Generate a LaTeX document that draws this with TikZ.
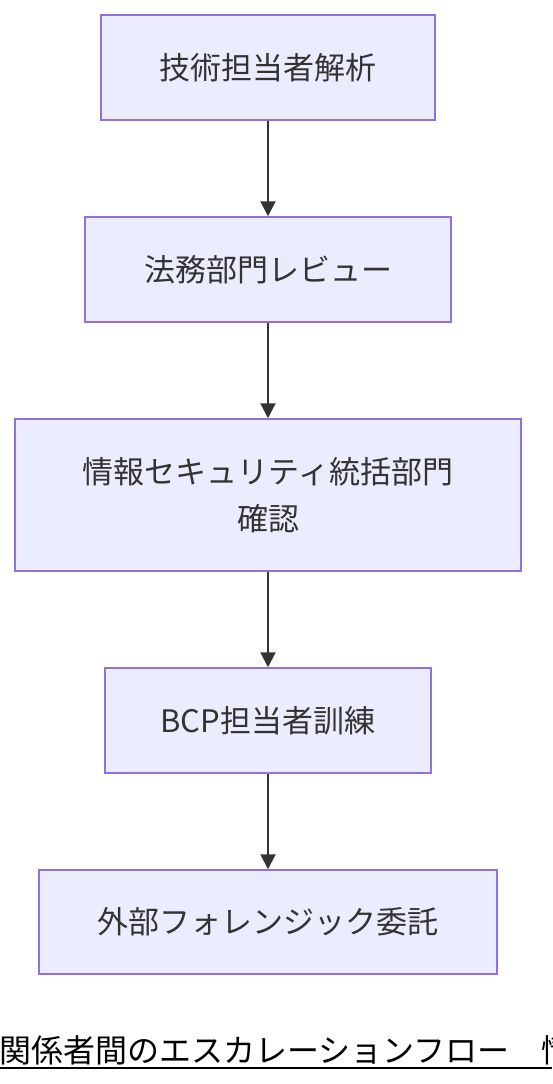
\documentclass[tikz,border=0pt]{standalone}
\usepackage{fontspec}
\setmainfont{Noto Sans CJK JP}
\usepackage{tikz}
\usetikzlibrary{arrows.meta}
\definecolor{boxfill}{HTML}{ECECFF}
\definecolor{boxline}{HTML}{9370DB}
\definecolor{flowline}{HTML}{333333}
\tikzset{
    stepbox/.style={draw=boxline,fill=boxfill,line width=1.5pt,inner sep=0pt,align=center,text=flowline,font=\fontsize{31}{47}\selectfont},
    flowarrow/.style={draw=flowline,line width=2pt,-{Triangle[length=15pt,width=15pt]}},
}

\begin{document}
\begin{tikzpicture}[x=1pt,y=-1pt]
            \useasboundingbox (0,0) rectangle (552,1084); % page size

            \node[stepbox,minimum width=334pt,minimum height=105pt] (tech) at (268,67.5) {技術担当者解析}; % boxes
            \node[stepbox,minimum width=366pt,minimum height=105pt] (legal) at (268,269.5) {法務部門レビュー};
            \node[stepbox,minimum width=506pt,minimum height=152pt] (sec) at (268,495) {情報セキュリティ統括部門\\確認};
            \node[stepbox,minimum width=326pt,minimum height=105pt] (bcp) at (268,720.5) {BCP担当者訓練};
            \node[stepbox,minimum width=458pt,minimum height=104pt] (ext) at (268,922) {外部フォレンジック委託};

            \draw[flowarrow] (tech) -- (legal); % arrows
            \draw[flowarrow] (legal) -- (sec);
            \draw[flowarrow] (sec) -- (bcp);
            \draw[flowarrow] (bcp) -- (ext);

            \node[anchor=west,inner sep=0pt,font=\fontsize{32}{32}\selectfont] (title) at (-1,1050) {関係者間のエスカレーションフロー　情}; % title
            \draw[line width=2.5pt] (0,1068) -- (552,1068);
        \end{tikzpicture}
\end{document}
